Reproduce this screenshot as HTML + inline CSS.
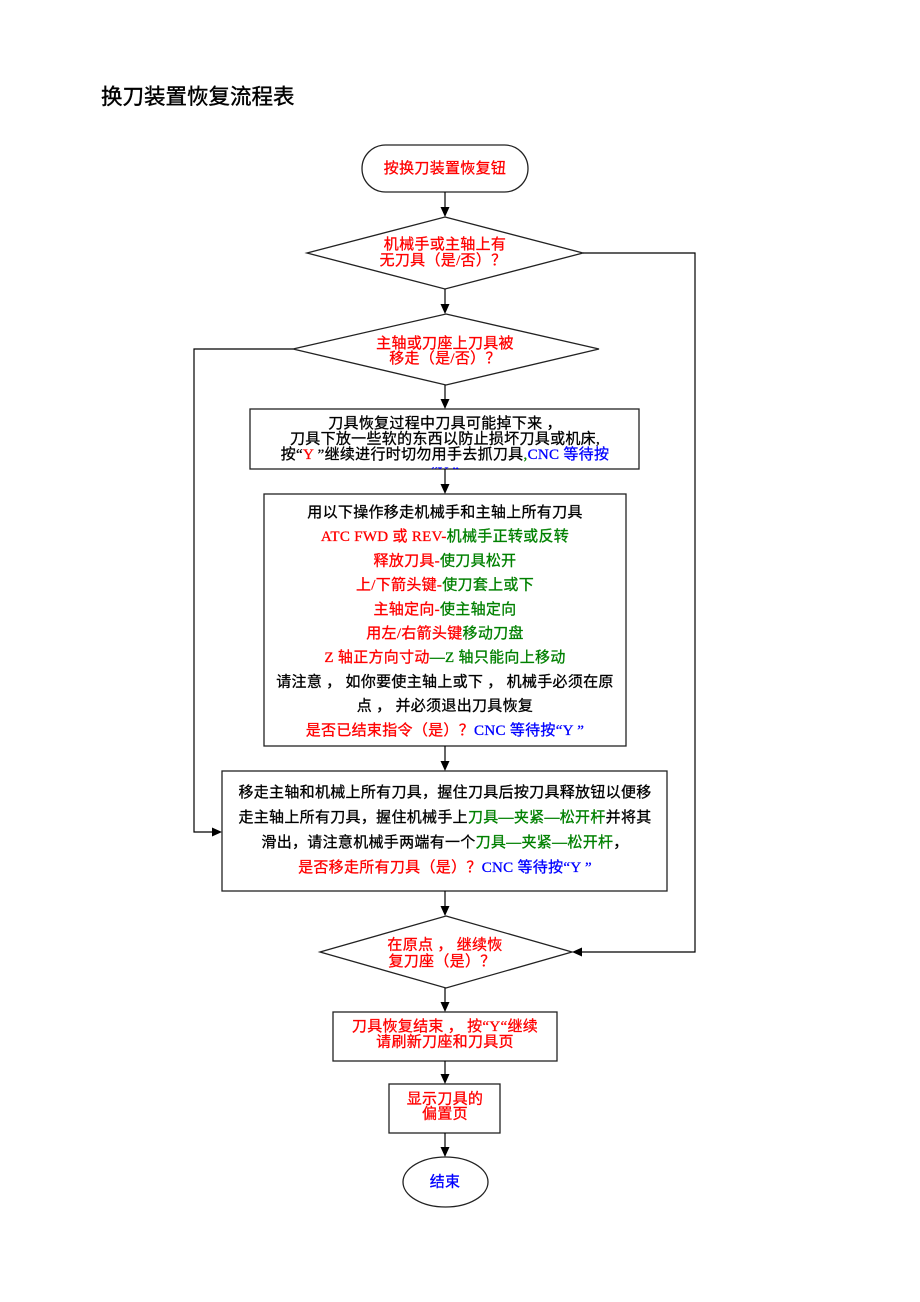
<!DOCTYPE html>
<html><head><meta charset="utf-8"><style>
html,body{margin:0;padding:0;background:#fff;}
svg{display:block;}
text{font-family:"Liberation Serif","Noto Sans CJK SC",serif;font-size:15px;fill:#000;stroke:#000;stroke-width:0.3px;letter-spacing:0.3px;}
.r{fill:#ff0000;stroke:#ff0000}.g{fill:#008000;stroke:#008000}.b{fill:#0000ff;stroke:#0000ff}.k{fill:#000;stroke:#000}
</style></head><body>
<svg width="920" height="1302" viewBox="0 0 920 1302" xmlns="http://www.w3.org/2000/svg">
<defs><clipPath id="c3"><rect x="250" y="409" width="389" height="60"/></clipPath></defs>
<text x="101" y="104" style="font-family:'Noto Sans CJK SC',sans-serif;font-size:21.5px;stroke-width:0.4px;letter-spacing:0">换刀装置恢复流程表</text>

<g fill="none" stroke="#222" stroke-width="1.3">
<rect x="362" y="145" width="166" height="47" rx="23.5" fill="#fff"/>
<polygon points="445,217 583,253 445,289 307,253" fill="#fff"/>
<polygon points="446,314 599,349 446,385 293,349" fill="#fff"/>
<rect x="250" y="409" width="389" height="60" fill="#fff"/>
<rect x="264" y="494" width="362" height="252" fill="#fff"/>
<rect x="222" y="771" width="445" height="120" fill="#fff"/>
<polygon points="446,916 572,952 446,988 320,952" fill="#fff"/>
<rect x="333" y="1012" width="224" height="49" fill="#fff"/>
<rect x="389" y="1084" width="111" height="49" fill="#fff"/>
<ellipse cx="445.5" cy="1182" rx="42.5" ry="25" fill="#fff"/>
</g>

<g stroke="#000" stroke-width="1.2" fill="none">
<line x1="445" y1="192" x2="445" y2="208"/>
<line x1="445" y1="289" x2="445" y2="305"/>
<line x1="445" y1="385" x2="445" y2="400"/>
<line x1="445" y1="469" x2="445" y2="485"/>
<line x1="445" y1="746" x2="445" y2="762"/>
<line x1="445" y1="891" x2="445" y2="907"/>
<line x1="445" y1="988" x2="445" y2="1003"/>
<line x1="445" y1="1061" x2="445" y2="1075"/>
<line x1="445" y1="1133" x2="445" y2="1148"/>
<polyline points="583,253 695,253 695,952 581,952"/>
<polyline points="293,349 194,349 194,832 213,832"/>
</g>
<g fill="#000">
<polygon points="440.5,207 449.5,207 445,217"/>
<polygon points="440.5,304 449.5,304 445,314"/>
<polygon points="440.5,399 449.5,399 445,409"/>
<polygon points="440.5,484 449.5,484 445,494"/>
<polygon points="440.5,761 449.5,761 445,771"/>
<polygon points="440.5,906 449.5,906 445,916"/>
<polygon points="440.5,1002 449.5,1002 445,1012"/>
<polygon points="440.5,1074 449.5,1074 445,1084"/>
<polygon points="440.5,1147 449.5,1147 445,1157"/>
<polygon points="582,947.5 582,956.5 572,952"/>
<polygon points="212,827.5 212,836.5 222,832"/>
</g>

<g text-anchor="middle">
<text x="445" y="173" class="r">按换刀装置恢复钮</text>
<text x="445" y="249" class="r">机械手或主轴上有</text>
<text x="443" y="265" class="r">无刀具（是/否）？</text>
<text x="445" y="348" class="r">主轴或刀座上刀具被</text>
<text x="445" y="363" class="r">移走（是/否）？</text>

<g clip-path="url(#c3)">
<text x="445" y="428">刀具恢复过程中刀具可能掉下来 ，</text>
<text x="445" y="443.5">刀具下放一些软的东西以防止损坏刀具或机床,</text>
<text x="445" y="459"><tspan class="k">按“</tspan><tspan class="r">Y</tspan><tspan class="k"> ”继续进行时切勿用手去抓刀具</tspan><tspan class="g">,</tspan><tspan class="b">CNC 等待按</tspan></text>
<text x="445" y="477" class="b">“Y ”</text>
</g>

<text x="445" y="517">用以下操作移走机械手和主轴上所有刀具</text>
<text x="445" y="541"><tspan class="r">ATC FWD 或 REV-</tspan><tspan class="g">机械手正转或反转</tspan></text>
<text x="445" y="565.5"><tspan class="r">释放刀具-</tspan><tspan class="g">使刀具松开</tspan></text>
<text x="445" y="589.5"><tspan class="r">上/下箭头键-</tspan><tspan class="g">使刀套上或下</tspan></text>
<text x="445" y="614"><tspan class="r">主轴定向-</tspan><tspan class="g">使主轴定向</tspan></text>
<text x="445" y="638"><tspan class="r">用左/右箭头键</tspan><tspan class="g">移动刀盘</tspan></text>
<text x="445" y="662"><tspan class="r">Z 轴正方向寸动</tspan><tspan class="g">—Z 轴只能向上移动</tspan></text>
<text x="445" y="686.5">请注意 ， 如你要使主轴上或下 ， 机械手必须在原</text>
<text x="445" y="710.5">点 ， 并必须退出刀具恢复</text>
<text x="445" y="735"><tspan class="r">是否已结束指令（是）？</tspan><tspan class="b">CNC 等待按“Y ”</tspan></text>

<text x="445" y="797">移走主轴和机械上所有刀具，握住刀具后按刀具释放钮以便移</text>
<text x="445" y="822"><tspan class="k">走主轴上所有刀具，握住机械手上</tspan><tspan class="g">刀具—夹紧—松开杆</tspan><tspan class="k">并将其</tspan></text>
<text x="445" y="847"><tspan class="k">滑出，请注意机械手两端有一个</tspan><tspan class="g">刀具—夹紧—松开杆</tspan><tspan class="k">，</tspan></text>
<text x="445" y="872"><tspan class="r">是否移走所有刀具（是）？</tspan><tspan class="b">CNC 等待按“Y ”</tspan></text>

<text x="445" y="949.5" class="r">在原点 ， 继续恢</text>
<text x="442" y="966" class="r">复刀座（是）？</text>

<text x="445" y="1031" class="r">刀具恢复结束 ， 按“Y“继续</text>
<text x="445" y="1046.5" class="r">请刷新刀座和刀具页</text>

<text x="445" y="1103.5" class="r">显示刀具的</text>
<text x="445" y="1118.5" class="r">偏置页</text>

<text x="445" y="1186.5" class="b">结束</text>
</g>
</svg>
</body></html>
